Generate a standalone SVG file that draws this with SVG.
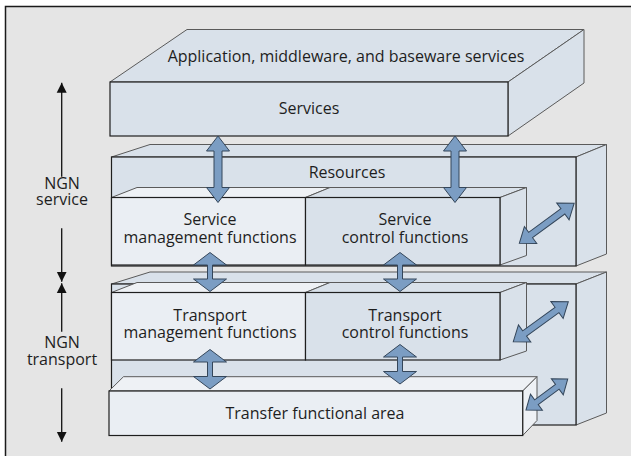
<svg xmlns="http://www.w3.org/2000/svg" width="631" height="456" viewBox="0 0 631 456">
<style>
  .frame{fill:#e5e5e5;stroke:#1a1a1a;stroke-width:1.5}
  .face{fill:#d9e1ea;stroke:#5a5a5a;stroke-width:1;stroke-linejoin:round}
  .front{fill:#d9e1ea;stroke:#1e1e1e;stroke-width:1.2}
  .lface{fill:#eef1f5;stroke:#5a5a5a;stroke-width:1;stroke-linejoin:round}
  .lfront{fill:#eaeef3;stroke:#1e1e1e;stroke-width:1.2}
  .arr{fill:#7b9dc3;stroke:#34465a;stroke-width:1;stroke-linejoin:miter}
  .ngn{stroke:#111;stroke-width:1.3;fill:none}
  text{font-family:"Open Sans","Noto Sans","DejaVu Sans",sans-serif;font-size:16px;fill:#1e1e1e;text-anchor:middle}
</style>
<defs>
  <marker id="ah" viewBox="0 0 10 10" refX="10" refY="5" markerWidth="10" markerHeight="11.5" markerUnits="userSpaceOnUse" orient="auto-start-reverse">
    <path d="M0,0 L10,5 L0,10 Z" fill="#111"/>
  </marker>
</defs>
<rect class="frame" x="5.5" y="6.5" width="640" height="470"/>

<g id="services">
  <polygon class="face" points="110,82 187,29.5 584,29.5 508,82"/>
  <polygon class="face" points="508,82 584,29.5 584,83 508,136"/>
  <rect class="front" x="110" y="82" width="398" height="54"/>
  <text x="346" y="62">Application, middleware, and baseware services</text>
  <text x="309" y="114">Services</text>
</g>

<g id="resources">
  <polygon class="face" points="111.5,157 150,144.5 606.5,144.5 576,157"/>
  <polygon class="face" points="576,157 606.5,144.5 606.5,254 576,266"/>
  <rect class="front" x="111.5" y="157" width="464.5" height="109"/>
  <text x="347" y="178">Resources</text>
</g>

<g id="service-management">
  <polygon class="lface" points="111.5,197.5 137,187.5 330,187.5 305.5,197.5"/>
  <rect class="lfront" x="111.5" y="197.5" width="194" height="67.5"/>
  <text x="210" y="225">Service</text>
  <text x="210" y="243">management functions</text>
</g>

<g id="service-control">
  <polygon class="face" points="305.5,197.5 330,187.5 526.5,187.5 500,197.5"/>
  <polygon class="face" points="500,197.5 526.5,187.5 526.5,255.5 500,265"/>
  <rect class="front" x="305.5" y="197.5" width="194.5" height="67.5"/>
  <text x="405" y="225">Service</text>
  <text x="405" y="243">control functions</text>
</g>

<g id="transport">
  <polygon class="face" points="111.5,284 150,272 606.5,272 576,284"/>
  <polygon class="face" points="576,284 606.5,272 606.5,413 576,425"/>
  <rect class="front" x="111.5" y="284" width="464.5" height="141"/>
</g>

<g id="transport-management">
  <polygon class="lface" points="111.5,292.5 137,282.5 330,282.5 305.5,292.5"/>
  <rect class="lfront" x="111.5" y="292.5" width="194" height="67.5"/>
  <text x="210" y="320.5">Transport</text>
  <text x="210" y="338">management functions</text>
</g>

<g id="transport-control">
  <polygon class="face" points="305.5,292.5 330,282.5 526.5,282.5 500,292.5"/>
  <polygon class="face" points="500,292.5 526.5,282.5 526.5,351 500,360"/>
  <rect class="front" x="305.5" y="292.5" width="194.5" height="67.5"/>
  <text x="405" y="320.5">Transport</text>
  <text x="405" y="338">control functions</text>
</g>

<g id="transfer">
  <polygon class="lface" points="109,391 123.5,376.7 537,376.7 522.7,391"/>
  <polygon class="lface" points="522.7,391 537,376.7 537,420.5 522.7,435.5"/>
  <rect class="lfront" x="109" y="391" width="413.7" height="44.5"/>
  <text x="315" y="418.5">Transfer functional area</text>
</g>

<g id="ngn-labels">
  <text x="62" y="188.5">NGN</text>
  <text x="62" y="204.5">service</text>
  <text x="62" y="347.5">NGN</text>
  <text x="62" y="365">transport</text>
</g>

<g id="connectors">
  <line class="ngn" x1="61.7" y1="82.7" x2="61.7" y2="176.7" marker-start="url(#ah)"/>
  <line class="ngn" x1="61.7" y1="228.3" x2="61.7" y2="281.7" marker-end="url(#ah)"/>
  <line class="ngn" x1="61.7" y1="283.3" x2="61.7" y2="331.7" marker-start="url(#ah)"/>
  <line class="ngn" x1="61.7" y1="388.3" x2="61.7" y2="441.7" marker-end="url(#ah)"/>

  <polygon class="arr" points="218,136 229.5,151 222,151 222,187.5 229.5,187.5 218,202.5 206.5,187.5 214,187.5 214,151 206.5,151"/>
  <polygon class="arr" points="455,136 466.5,151 459,151 459,187.5 466.5,187.5 455,202.5 443.5,187.5 451,187.5 451,151 443.5,151"/>
  <polygon class="arr" points="210,252.5 226.5,265 212.5,265 212.5,279 226.5,279 210,291.5 193.5,279 207.5,279 207.5,265 193.5,265"/>
  <polygon class="arr" points="400,252.5 416.5,265 402.5,265 402.5,279 416.5,279 400,291.5 383.5,279 397.5,279 397.5,265 383.5,265"/>
  <polygon class="arr" points="210,349.5 226.5,362 212.5,362 212.5,376.5 226.5,376.5 210,389 193.5,376.5 207.5,376.5 207.5,362 193.5,362"/>
  <polygon class="arr" points="400,344.5 416.5,357 402.5,357 402.5,371.5 416.5,371.5 400,384 383.5,371.5 397.5,371.5 397.5,357 383.5,357"/>

  <polygon class="arr" transform="translate(519.3,243.3) rotate(-36.2)" points="0,0 14,-10.5 14,-3.3 54,-3.3 54,-10.5 68,0 54,10.5 54,3.3 14,3.3 14,10.5"/>
  <polygon class="arr" transform="translate(513.3,341.7) rotate(-36)" points="0,0 14,-10.5 14,-3.3 54,-3.3 54,-10.5 68,0 54,10.5 54,3.3 14,3.3 14,10.5"/>
  <polygon class="arr" transform="translate(526,410) rotate(-36.6)" points="0,0 13,-10 13,-3 39,-3 39,-10 52,0 39,10 39,3 13,3 13,10"/>
</g>
</svg>
